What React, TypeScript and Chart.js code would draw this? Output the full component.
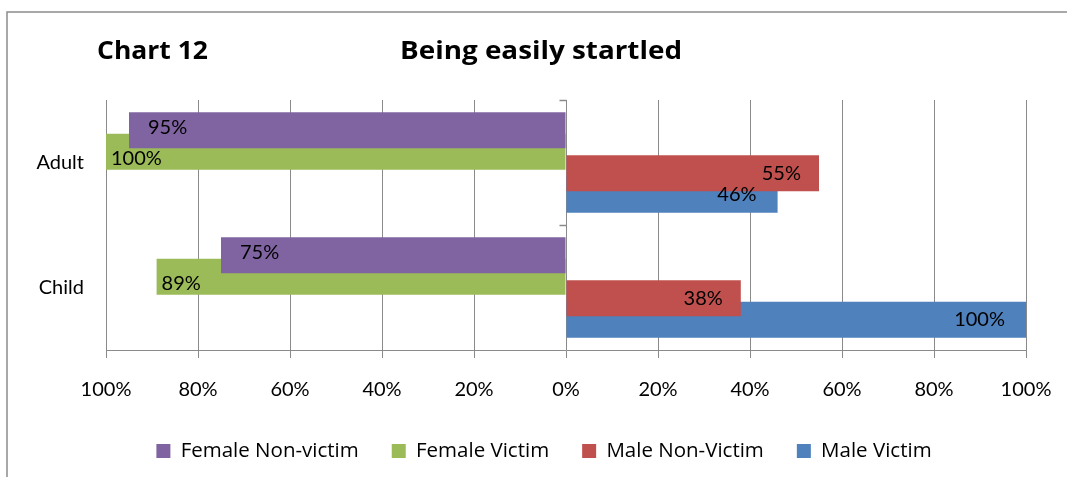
import React, { useEffect, useRef } from "react";
import { Chart, registerables } from "chart.js";

Chart.register(...registerables);

// ---- data ----
const categories = ["Adult", "Child"];
const seriesNames = ["Female Non-victim", "Female Victim", "Male Non-Victim", "Male Victim"];
const femaleNonVictim = [95, 75];
const femaleVictim = [100, 89];
const maleNonVictim = [55, 38];
const maleVictim = [46, 100];
const tickMin = -100;
const tickMax = 100;
const tickStep = 20;
const chartLabel = "Chart 12";
const chartTitle = "Being easily startled";

// ---- styles ----
const colors = ["#8064A2", "#9BBB59", "#C0504D", "#4F81BD"];
const labelInset = [19, 5, 18, 21];
const labelDy = [-3, 7, 0, 0];
const FONT = "Lato";
const LEGEND_FONT = "Open Sans";
const GRID = "#8a8a8a";
const legendShift = 31;

function drawStretched(ctx: CanvasRenderingContext2D, text: string, x: number, y: number, w: number) {
  const m = ctx.measureText(text).width;
  const sx = w / m;
  ctx.save();
  ctx.translate(x, y);
  ctx.scale(sx, 1);
  ctx.fillText(text, 0, 0);
  ctx.restore();
}

const decorPlugin = {
  id: "decor",
  afterLayout(chart: any) {
    const lg = chart.legend;
    if (lg) {
      lg.left += legendShift;
      lg.right += legendShift;
    }
  },
  beforeDraw(chart: any) {
    const ctx = chart.ctx;
    ctx.save();
    ctx.fillStyle = "#ffffff";
    ctx.fillRect(0, 0, chart.width, chart.height);
    // outer frame
    ctx.strokeStyle = "#8c8c8c";
    ctx.lineWidth = 1.5;
    ctx.beginPath();
    ctx.moveTo(7, chart.height);
    ctx.lineTo(7, 12);
    ctx.lineTo(chart.width, 12);
    ctx.stroke();
    // titles
    ctx.fillStyle = "#000";
    ctx.font = `bold 25px "${LEGEND_FONT}"`;
    ctx.textBaseline = "alphabetic";
    ctx.textAlign = "left";
    drawStretched(ctx, chartLabel, 97, 59, 111);
    drawStretched(ctx, chartTitle, 400, 59, 282);
    ctx.restore();
  },
  afterDraw(chart: any) {
    // vertical axis tick marks at zero line (category boundaries)
    const ctx = chart.ctx;
    const x0 = Math.round(chart.scales.x.getPixelForValue(0)) + 0.5;
    const y = chart.scales.y;
    const n = categories.length;
    const band = (y.bottom - y.top) / n;
    ctx.save();
    ctx.strokeStyle = GRID;
    ctx.lineWidth = 1.5;
    ctx.beginPath();
    for (let i = 0; i < n; i++) {
      const yy = Math.round(y.top + band * i) + 0.5;
      ctx.moveTo(x0 - 7, yy);
      ctx.lineTo(x0, yy);
    }
    ctx.stroke();
    ctx.restore();
  },
};

const labelPlugin = {
  id: "barLabels",
  afterDatasetsDraw(chart: any) {
    const ctx = chart.ctx;
    ctx.save();
    ctx.font = `20px ${FONT}`;
    ctx.fillStyle = "#000";
    ctx.textBaseline = "middle";
    chart.data.datasets.forEach((ds: any, i: number) => {
      const meta = chart.getDatasetMeta(i);
      meta.data.forEach((bar: any, j: number) => {
        const v = ds.data[j];
        const { x, y } = bar.getProps(["x", "y"], true);
        const text = Math.abs(v) + "%";
        if (v < 0) {
          ctx.textAlign = "left";
          ctx.fillText(text, x + labelInset[i], y + labelDy[i]);
        } else {
          ctx.textAlign = "right";
          ctx.fillText(text, x - labelInset[i], y + labelDy[i]);
        }
      });
    });
    ctx.restore();
  },
};

export default function App() {
  const ref = useRef<HTMLCanvasElement | null>(null);
  useEffect(() => {
    let chart: Chart | null = null;
    let cancelled = false;
    const make = () => {
      if (cancelled || !ref.current) return;
      const seriesData = [
        femaleNonVictim.map((v) => -v),
        femaleVictim.map((v) => -v),
        maleNonVictim,
        maleVictim,
      ];
      chart = new Chart(ref.current, {
        type: "bar",
        data: {
          labels: categories,
          datasets: seriesNames.map((name, i) => ({
            label: name,
            data: seriesData[i],
            backgroundColor: colors[i],
            borderWidth: 0,
            categoryPercentage: 0.688,
            barPercentage: 1.674,
          })),
        },
        options: {
          indexAxis: "y",
          animation: false,
          responsive: false,
          layout: { padding: { top: 100, left: 0, right: 41, bottom: 5.75 } },
          scales: {
            x: {
              min: tickMin,
              max: tickMax,
              grid: { color: GRID, lineWidth: 1, tickLength: 8, drawTicks: true },
              border: { display: true, color: GRID, width: 1 },
              ticks: {
                stepSize: tickStep,
                padding: 20,
                color: "#000",
                font: { family: FONT, size: 20 },
                callback: (v: any) => Math.abs(Number(v)) + "%",
              },
              afterFit: (s: any) => {
                s.height = 57.75;
                s.paddingLeft = 0;
                s.paddingRight = 0;
              },
            },
            y: {
              grid: { display: false, drawTicks: false },
              border: { display: false },
              ticks: { padding: 22, color: "#000", font: { family: FONT, size: 20 } },
              afterFit: (s: any) => {
                s.width = 106;
              },
            },
          },
          plugins: {
            legend: {
              position: "bottom",
              labels: {
                boxWidth: 14,
                boxHeight: 14,
                padding: 33,
                color: "#000",
                font: { family: LEGEND_FONT, size: 20.5 },
              },
            },
            tooltip: { enabled: false },
            title: { display: false },
          },
        },
        plugins: [decorPlugin, labelPlugin],
      } as any);
    };
    const fontsReady = (document as any).fonts
      ? Promise.all([
          (document as any).fonts.load(`20px ${FONT}`),
          (document as any).fonts.load(`20px "${LEGEND_FONT}"`),
          (document as any).fonts.load(`bold 25px "${LEGEND_FONT}"`),
        ]).catch(() => null)
      : Promise.resolve(null);
    fontsReady.then(make);
    return () => {
      cancelled = true;
      if (chart) chart.destroy();
    };
  }, []);
  return (
    <div style={{ position: "fixed", left: 0, top: 0, width: 1067, height: 477, background: "#fff" }}>
      <canvas ref={ref} width={1067} height={477} style={{ display: "block" }} />
    </div>
  );
}
